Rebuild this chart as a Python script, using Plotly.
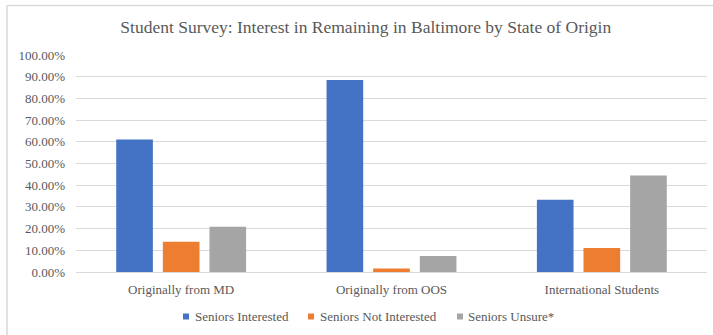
import plotly.graph_objects as go

categories = ["Originally from MD", "Originally from OOS", "International Students"]
series_names = ["Seniors Interested", "Seniors Not Interested", "Seniors Unsure*"]
interested = [0.6111, 0.8852, 0.3333]
not_interested = [0.1389, 0.0164, 0.1111]
unsure = [0.2083, 0.0738, 0.4444]
colors = ["#4472C4", "#ED7D31", "#A5A5A5"]
tick_vals = [i / 10 for i in range(11)]
tick_text = [f"{v*100:.2f}%" for v in tick_vals]

FONT = "Liberation Serif"
GREY = "#595959"

fig = go.Figure()
for name, vals, col in zip(series_names, [interested, not_interested, unsure], colors):
    fig.add_trace(go.Bar(x=categories, y=vals, name=name, marker_color=col,
                         marker_line_width=0, showlegend=False))

W, H = 713, 335
ml, mr, mt, mb = 76, 6, 55, 63
pw, ph = W - ml - mr, H - mt - mb


def px_x(x):
    return (x - ml) / pw


def px_y(y):
    return (H - mb - y) / ph


shapes = [
    dict(type="line", xref="paper", yref="paper",
         x0=px_x(7), x1=px_x(W + 5), y0=px_y(5.5), y1=px_y(5.5),
         line=dict(color="#d9d9d9", width=1.5)),
    dict(type="line", xref="paper", yref="paper",
         x0=px_x(7), x1=px_x(7), y0=px_y(5.5), y1=px_y(H + 5),
         line=dict(color="#d9d9d9", width=1.5)),
]
annotations = []
# legend (drawn manually to match the compact Excel-style legend)
legend_square_x = [183, 308, 457]
legend_y = 316.5
for name, col, sx in zip(series_names, colors, legend_square_x):
    shapes.append(dict(type="rect", xref="paper", yref="paper",
                       x0=px_x(sx), x1=px_x(sx + 6),
                       y0=px_y(legend_y + 3), y1=px_y(legend_y - 3),
                       fillcolor=col, line=dict(width=0)))
    annotations.append(dict(text=name, xref="paper", yref="paper",
                            x=px_x(sx + 9.5), y=px_y(legend_y),
                            xanchor="left", yanchor="middle", showarrow=False,
                            font=dict(family=FONT, size=13, color=GREY)))

fig.update_layout(
    width=W, height=H,
    margin=dict(l=ml, r=mr, t=mt, b=mb),
    paper_bgcolor="white", plot_bgcolor="white",
    barmode="group", bargap=0.335, bargroupgap=0.214,
    font=dict(family=FONT, size=13, color=GREY),
    showlegend=False,
    title=dict(text="Student Survey: Interest in Remaining in Baltimore by State of Origin",
               x=0.513, xanchor="center", y=1 - 27 / H, yanchor="middle",
               font=dict(family=FONT, size=17.5, color=GREY)),
    xaxis=dict(showgrid=False, showline=False, ticks="", ticklabelstandoff=8,
               tickfont=dict(family=FONT, size=13, color=GREY)),
    yaxis=dict(range=[0, 1.0], tickvals=tick_vals, ticktext=tick_text,
               showgrid=True, gridcolor="#d9d9d9", gridwidth=1,
               zeroline=True, zerolinecolor="#d9d9d9", zerolinewidth=1,
               showline=False, ticks="", ticklabelstandoff=10,
               tickfont=dict(family=FONT, size=13, color=GREY)),
    shapes=shapes,
    annotations=annotations,
)

fig.write_html("out.html")
